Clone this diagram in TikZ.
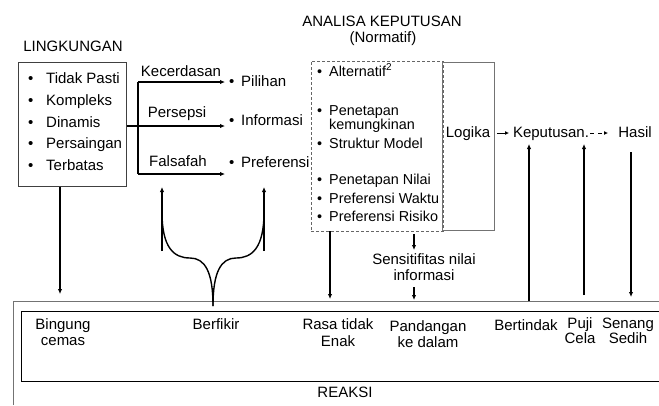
\documentclass[tikz,border=0pt]{standalone}
\usepackage{fontspec}
\setmainfont{Liberation Sans}
\usetikzlibrary{arrows.meta}
\begin{document}
\begin{tikzpicture}[x=1pt,y=-1pt,
  every node/.style={font=\fontsize{15}{17}\selectfont, inner sep=0pt, anchor=base},
  lbl/.style={anchor=base west},
  alb/.style={anchor=base west, font=\fontsize{14.4}{16}\selectfont},
  arr/.style={line width=1.4pt, -{Latex[length=5pt,width=4.5pt]}},
  ln/.style={line width=1.4pt},
  boxline/.style={draw=black!75, line width=1pt},
  grayline/.style={draw=black!55, line width=1pt},
  dashbox/.style={draw=black!60, line width=0.8pt, dash pattern=on 3pt off 2pt}
]
\useasboundingbox (0,0) rectangle (659,405);

% titles
\node (lingk) at (73,51) {LINGKUNGAN};
\node (anal) at (382,26) {ANALISA KEPUTUSAN};
\node (norm) at (383,42) {(Normatif)};

% environment box
\node[boxline, minimum width=108pt, minimum height=124pt, anchor=center] (envbox) at (72,124) {};
\node[lbl] (e1) at (28,83) {\makebox[18pt][l]{•}Tidak Pasti};
\node[lbl] (e2) at (28,105) {\makebox[18pt][l]{•}Kompleks};
\node[lbl] (e3) at (28,127) {\makebox[18pt][l]{•}Dinamis};
\node[lbl] (e4) at (28,148) {\makebox[18pt][l]{•}Persaingan};
\node[lbl] (e5) at (28,170) {\makebox[18pt][l]{•}Terbatas};

% middle items
\node[lbl] (pil) at (229,86) {\makebox[12pt][l]{•}Pilihan};
\node[lbl] (inf) at (229,125) {\makebox[12pt][l]{•}Informasi};
\node[lbl] (pref) at (229,167) {\makebox[12pt][l]{•}Preferensi};

\node (kec) at (181,76) {Kecerdasan};
\node (pers) at (177,117) {Persepsi};
\node (fals) at (178,166) {Falsafah};

\coordinate (hy) at (0,126);
\coordinate (sTop) at (138,82);
\coordinate (sBot) at (138,174);
\coordinate (pilE) at (225,82);
\coordinate (infE) at (225,126);
\coordinate (prefE) at (225,174);
\draw[arr] (envbox.east |- hy) -- (infE);
\draw[ln] (sTop) -- (sBot);
\draw[arr] (sTop) -- (pilE);
\draw[arr] (sBot) -- (prefE);

% analysis box
\node[dashbox, minimum width=132pt, minimum height=170pt, anchor=center] (dbox) at (377,146) {};
\node[grayline, minimum width=52pt, minimum height=168pt, anchor=center] (logbox) at (468,146) {};
\node (logika) at (468,137) {Logika};

\node[alb] (a1) at (317,76) {\makebox[12pt][l]{•}Alternatif\textsuperscript{2}};
\node[alb] (a2) at (317,115) {\makebox[12pt][l]{•}Penetapan};
\node[alb] (a2b) at (329,129) {kemungkinan};
\node[alb] (a3) at (317,148) {\makebox[12pt][l]{•}Struktur Model};
\node[alb] (a4) at (317,184) {\makebox[12pt][l]{•}Penetapan Nilai};
\node[alb] (a5) at (317,203) {\makebox[12pt][l]{•}Preferensi Waktu};
\node[alb] (a6) at (317,221) {\makebox[12pt][l]{•}Preferensi Risiko};

\node (kep) at (551,137) {Keputusan.};
\node (hasil) at (635,137) {Hasil};
\coordinate (lk1) at (497,133);
\coordinate (lk2) at (509,133);
\draw[line width=1pt, -{Latex[length=4pt,width=4pt]}] (lk1) -- (lk2);
\coordinate (kh1) at (590,133);
\coordinate (kh2) at (608,133);
\draw[line width=1pt, dash pattern=on 4pt off 4pt, -{Latex[length=4pt,width=4pt]}] (kh1) -- (kh2);

% sensitivity
\node (sens1) at (424,264) {Sensitifitas nilai};
\node (sens2) at (424,280) {informasi};
\coordinate (s1) at (414,234);
\coordinate (s2) at (414,250);
\coordinate (s3) at (414,287);
\coordinate (s4) at (414,300);
\draw[arr] (s1) -- (s2);
\draw[arr] (s3) -- (s4);

% reaction frame
\draw[grayline] (13,405) -- (13,301) -- (659,301);
\draw[line width=1pt] (659,311) -- (21,311) -- (21,381) -- (659,381);
\node (reaksi) at (345,397) {REAKSI};

\node (bing1) at (63,329) {Bingung};
\node (bing2) at (63,345) {cemas};
\node (berf) at (216,329) {Berfikir};
\node (rasa1) at (338,329) {Rasa tidak};
\node (rasa2) at (338,346) {Enak};
\node (pand1) at (428,331) {Pandangan};
\node (pand2) at (428,347) {ke dalam};
\node (bert) at (526,330) {Bertindak};
\node (puji1) at (580,328) {Puji};
\node (puji2) at (580,343) {Cela};
\node (sen1) at (628,328) {Senang};
\node (sen2) at (628,343) {Sedih};

% vertical connectors
\coordinate (bx) at (60,0);
\coordinate (bEnd) at (60,294);
\draw[arr] (envbox.south -| bx) -- (bEnd);
\coordinate (rx) at (330,0);
\coordinate (rEnd) at (330,299);
\draw[arr] (dbox.south -| rx) -- (rEnd);

\coordinate (bt0) at (529,301);
\coordinate (bt1) at (529,144);
\draw[arr] (bt0) -- (bt1);
\coordinate (pj0) at (584,295);
\coordinate (pj1) at (584,144);
\draw[arr] (pj0) -- (pj1);
\coordinate (hs0) at (631,152);
\coordinate (hs1) at (631,297);
\draw[arr] (hs0) -- (hs1);

% berfikir fork
\coordinate (fk) at (213,306);
\coordinate (fl0) at (162,251);
\coordinate (fl1) at (162,187);
\coordinate (fr0) at (264,251);
\coordinate (fr1) at (264,187);
\draw[arr] (fl0) -- (fl1);
\draw[arr] (fr0) -- (fr1);
\draw[ln] (162,212) .. controls (162,248) and (174,258) .. (190,258)
          .. controls (205,258) and (213,272) .. (fk);
\draw[ln] (264,212) .. controls (264,248) and (252,258) .. (236,258)
          .. controls (221,258) and (213,272) .. (fk);
\end{tikzpicture}
\end{document}
